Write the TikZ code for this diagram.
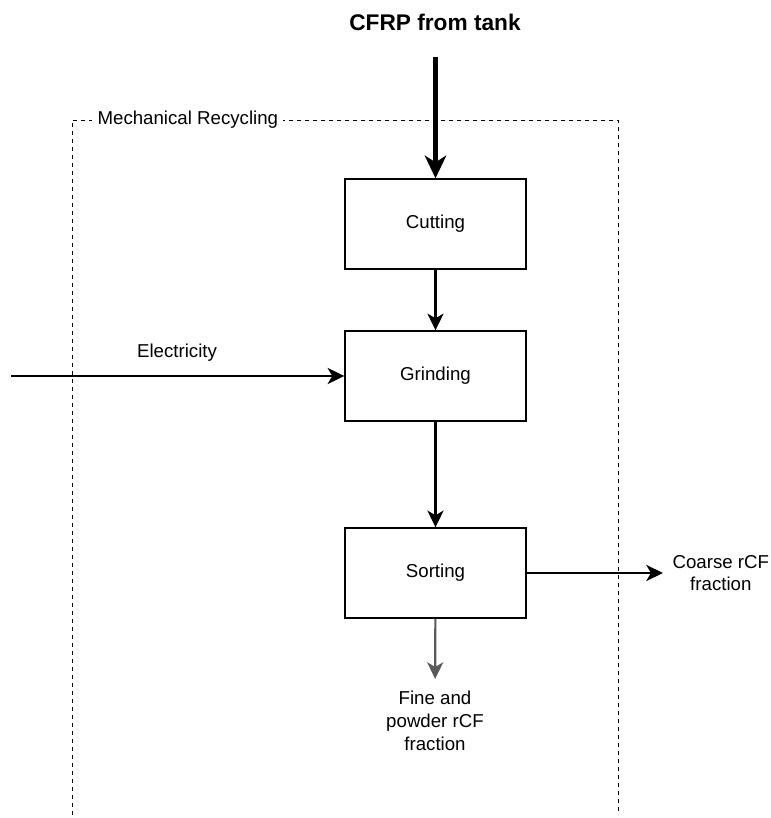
\documentclass[tikz,border=0pt]{standalone}
\usepackage{fontspec}
\setmainfont{Liberation Sans}
\usetikzlibrary{arrows.meta,positioning}

\begin{document}
\begin{tikzpicture}[x=0.75pt,y=0.75pt,>={Stealth[length=12.5pt,width=12pt,inset=3.5pt]},
 proc/.style={draw,line width=1pt,minimum width=135.75pt,minimum height=67.5pt,align=center,font=\fontsize{14}{17}\selectfont},
 lbl/.style={align=center,font=\fontsize{14}{17}\selectfont},
 flow/.style={->,line width=2.2pt}]
 \useasboundingbox (0,0) rectangle (771,818);
 % system boundary
 \draw[dashed,line width=0.7pt] (72,3) -- (72,698) -- (618,698) -- (618,3);
 \node[lbl,fill=white,anchor=west,inner xsep=4pt] (sys) at (92,698) {Mechanical Recycling};
 % process steps
 \node[proc] (cut) at (435.5,594) {Cutting};
 \node[proc] (grind) at (435.5,442) {Grinding};
 \node[proc] (sort) at (435.5,245) {Sorting};
 \node[lbl,font=\bfseries\fontsize{17}{20}\selectfont] (feed) at (435,796) {CFRP from tank};
 \node[lbl] (elec) at (177,465) {Electricity};
 \node[lbl,anchor=west,inner xsep=7pt] (coarse) at (663,245) {Coarse rCF\\fraction};
 \node[lbl,anchor=north,inner sep=9pt] (fine) at (435,139) {Fine and\\powder rCF\\fraction};
 \coordinate (in) at (435.5,761);
 \coordinate (pw) at (11,442);
 \draw[flow,line width=3.2pt,>={Stealth[length=17pt,width=16pt,inset=5pt]}] (in) -- (cut);
 \draw[flow] (cut) -- (grind);
 \draw[flow] (grind) -- (sort);
 \draw[flow] (pw) -- (grind);
 \draw[flow] (sort) -- (coarse);
 \draw[flow,line width=1.6pt,gray!70!black] (sort) -- (fine);
\end{tikzpicture}
\end{document}
